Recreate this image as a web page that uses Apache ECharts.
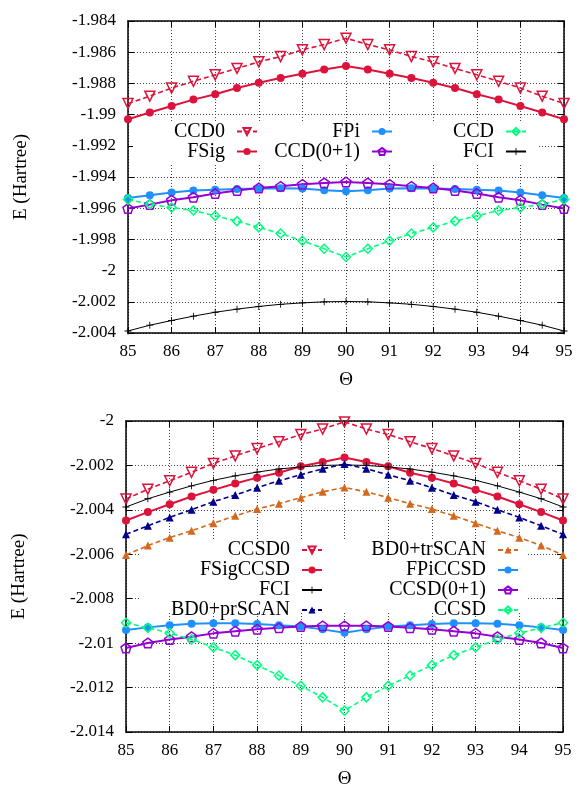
<!DOCTYPE html>
<html><head><meta charset="utf-8">
<script src="https://cdn.jsdelivr.net/npm/echarts@6/dist/echarts.min.js"></script>
<style>html,body{margin:0;padding:0;background:#fff;font-family:'Liberation Serif',serif}#c{width:578px;height:790px}</style>
</head><body><div id="c"></div>
<script>
// ---- data ----
const theta = [85,85.5,86,86.5,87,87.5,88,88.5,89,89.5,90,90.5,91,91.5,92,92.5,93,93.5,94,94.5,95];

// top panel
const ccd0  = [-1.98929,-1.98882,-1.98830,-1.98786,-1.98745,-1.98704,-1.98662,-1.98628,-1.98585,-1.98551,-1.98510,-1.98551,-1.98585,-1.98628,-1.98662,-1.98704,-1.98745,-1.98786,-1.98830,-1.98882,-1.98929];
const fsig  = [-1.99030,-1.98987,-1.98945,-1.98904,-1.98870,-1.98830,-1.98796,-1.98766,-1.98738,-1.98711,-1.98688,-1.98711,-1.98738,-1.98766,-1.98796,-1.98830,-1.98870,-1.98904,-1.98945,-1.98987,-1.99030];
const fpi   = [-1.99534,-1.99517,-1.99500,-1.99487,-1.99481,-1.99477,-1.99474,-1.99472,-1.99474,-1.99485,-1.99491,-1.99485,-1.99474,-1.99472,-1.99474,-1.99477,-1.99481,-1.99487,-1.99500,-1.99517,-1.99534];
const ccd01 = [-1.99602,-1.99577,-1.99549,-1.99530,-1.99506,-1.99487,-1.99470,-1.99460,-1.99447,-1.99438,-1.99432,-1.99438,-1.99447,-1.99460,-1.99470,-1.99487,-1.99506,-1.99530,-1.99549,-1.99577,-1.99602];
const ccd   = [-1.99545,-1.99574,-1.99596,-1.99615,-1.99649,-1.99683,-1.99723,-1.99762,-1.99809,-1.99860,-1.99913,-1.99860,-1.99809,-1.99762,-1.99723,-1.99683,-1.99649,-1.99615,-1.99596,-1.99574,-1.99545];
const fci   = [-2.00387,-2.00350,-2.00320,-2.00292,-2.00267,-2.00247,-2.00230,-2.00216,-2.00207,-2.00200,-2.00198,-2.00200,-2.00207,-2.00216,-2.00230,-2.00247,-2.00267,-2.00292,-2.00320,-2.00350,-2.00387];

// bottom panel
const ccsd0     = [-2.00351,-2.00307,-2.00269,-2.00231,-2.00191,-2.00157,-2.00124,-2.00093,-2.00061,-2.00036,-2.00004,-2.00036,-2.00061,-2.00093,-2.00124,-2.00157,-2.00191,-2.00231,-2.00269,-2.00307,-2.00351];
const fsigccsd  = [-2.00448,-2.00410,-2.00375,-2.00340,-2.00310,-2.00281,-2.00255,-2.00233,-2.00204,-2.00185,-2.00164,-2.00185,-2.00204,-2.00233,-2.00255,-2.00281,-2.00310,-2.00340,-2.00375,-2.00410,-2.00448];
const bd0pr     = [-2.00510,-2.00472,-2.00434,-2.00399,-2.00363,-2.00333,-2.00300,-2.00269,-2.00242,-2.00215,-2.00194,-2.00215,-2.00242,-2.00269,-2.00300,-2.00333,-2.00363,-2.00399,-2.00434,-2.00472,-2.00510];
const bd0tr     = [-2.00603,-2.00561,-2.00525,-2.00494,-2.00460,-2.00427,-2.00396,-2.00372,-2.00345,-2.00319,-2.00299,-2.00319,-2.00345,-2.00372,-2.00396,-2.00427,-2.00460,-2.00494,-2.00525,-2.00561,-2.00603];
const fpiccsd   = [-2.00941,-2.00929,-2.00919,-2.00913,-2.00911,-2.00910,-2.00914,-2.00919,-2.00925,-2.00938,-2.00953,-2.00938,-2.00925,-2.00919,-2.00914,-2.00910,-2.00911,-2.00913,-2.00919,-2.00929,-2.00941];
const ccsd01    = [-2.01022,-2.00999,-2.00984,-2.00971,-2.00956,-2.00946,-2.00937,-2.00931,-2.00925,-2.00922,-2.00922,-2.00922,-2.00925,-2.00931,-2.00937,-2.00946,-2.00956,-2.00971,-2.00984,-2.00999,-2.01022];
const ccsd      = [-2.00908,-2.00931,-2.00955,-2.00983,-2.01019,-2.01054,-2.01099,-2.01146,-2.01192,-2.01244,-2.01304,-2.01244,-2.01192,-2.01146,-2.01099,-2.01054,-2.01019,-2.00983,-2.00955,-2.00931,-2.00908];

const xTicks = {min: 85, max: 95, interval: 1};
const yTop = {min: -2.004, max: -1.984, interval: 0.002};
const yBot = {min: -2.014, max: -2.000, interval: 0.002};

// ---- styles ----
const FONT = 'serif';
const C_RED = '#dc143c', C_BLUE = '#1e90ff', C_VIO = '#9400d3', C_GRN = '#00ff7f',
      C_BLK = '#000000', C_NAVY = '#00008b', C_CHOC = '#d2691e';
const PENT = 'path://M50,0L97.55,34.55L79.39,90.45L20.61,90.45L2.45,34.55Z';
const PLUS = 'path://M4.4,0H5.6V4.4H10V5.6H5.6V10H4.4V5.6H0V4.4H4.4Z';
const DASH = [5, 3];

function mk(name, vals, gi, o) {
  return {
    type: 'line', name: name, xAxisIndex: gi * 2, yAxisIndex: gi * 2,
    data: theta.map((t, i) => [t, vals[i]]),
    symbol: o.symbol, symbolSize: o.size, symbolRotate: o.rotate || 0, symbolKeepAspect: true,
    showSymbol: true, clip: false, silent: true,
    lineStyle: {color: o.color, width: o.width, type: o.dash ? DASH : 'solid'},
    itemStyle: o.hollow ? {color: 'rgba(255,255,255,0)', borderColor: o.color, borderWidth: 1.5}
                        : {color: o.color, borderWidth: 0},
    emphasis: {disabled: true}
  };
}

const series = [
  mk('CCD0', ccd0, 0, {symbol: 'triangle', rotate: 180, size: 10, color: C_RED, width: 1.6, dash: true, hollow: true}),
  mk('FSig', fsig, 0, {symbol: 'circle', size: 8, color: C_RED, width: 2}),
  mk('FPi', fpi, 0, {symbol: 'circle', size: 8, color: C_BLUE, width: 2}),
  mk('CCD(0+1)', ccd01, 0, {symbol: PENT, size: 10, color: C_VIO, width: 2, hollow: true}),
  mk('CCD', ccd, 0, {symbol: 'diamond', size: 9, color: C_GRN, width: 1.6, dash: true, hollow: true}),
  mk('FCI', fci, 0, {symbol: PLUS, size: 7, color: C_BLK, width: 1}),

  mk('CCSD0', ccsd0, 1, {symbol: 'triangle', rotate: 180, size: 10, color: C_RED, width: 1.6, dash: true, hollow: true}),
  mk('FSigCCSD', fsigccsd, 1, {symbol: 'circle', size: 8, color: C_RED, width: 2}),
  mk('FCI', fci, 1, {symbol: PLUS, size: 7, color: C_BLK, width: 1}),
  mk('BD0+prSCAN', bd0pr, 1, {symbol: 'triangle', size: 8, color: C_NAVY, width: 1.6, dash: true}),
  mk('BD0+trSCAN', bd0tr, 1, {symbol: 'triangle', size: 8, color: C_CHOC, width: 1.6, dash: true}),
  mk('FPiCCSD', fpiccsd, 1, {symbol: 'circle', size: 8, color: C_BLUE, width: 2}),
  mk('CCSD(0+1)', ccsd01, 1, {symbol: PENT, size: 10, color: C_VIO, width: 2, hollow: true}),
  mk('CCSD', ccsd, 1, {symbol: 'diamond', size: 9, color: C_GRN, width: 1.6, dash: true, hollow: true})
];

const labelStyle = {fontFamily: FONT, fontSize: 17, color: '#000'};
const splitLine = {show: true, lineStyle: {color: '#444', width: 1, type: [1, 2]}};
const axisLine = {show: true, lineStyle: {color: '#000', width: 1.5}};
const tick = {show: true, inside: true, length: 6, lineStyle: {color: '#000', width: 1}};

function xAxes(gi) {
  return [
    Object.assign({type: 'value', gridIndex: gi, position: 'bottom'}, xTicks, {
      axisLine: axisLine, axisTick: tick, splitLine: splitLine,
      axisLabel: Object.assign({margin: 10}, labelStyle),
      name: 'Θ', nameLocation: 'middle', nameGap: 38,
      nameTextStyle: {fontFamily: FONT, fontSize: 19, color: '#000'}
    }),
    Object.assign({type: 'value', gridIndex: gi, position: 'top'}, xTicks, {
      axisLine: axisLine, axisTick: tick, splitLine: {show: false}, axisLabel: {show: false}
    })
  ];
}
function yAxes(gi, rng) {
  return [
    Object.assign({type: 'value', gridIndex: gi, position: 'left'}, rng, {
      axisLine: axisLine, axisTick: tick, splitLine: splitLine,
      axisLabel: Object.assign({margin: 12}, labelStyle),
      name: 'E (Hartree)', nameLocation: 'middle', nameGap: 97,
      nameTextStyle: {fontFamily: FONT, fontSize: 19, color: '#000'}
    }),
    Object.assign({type: 'value', gridIndex: gi, position: 'right'}, rng, {
      axisLine: axisLine, axisTick: tick, splitLine: {show: false}, axisLabel: {show: false}
    })
  ];
}

function legend(names, top, right, lh) {
  return {
    data: names, orient: 'vertical', align: 'right', top: top, right: right,
    itemWidth: 20, itemHeight: 9, itemGap: 0, padding: 0, selectedMode: false,
    textStyle: {fontFamily: FONT, fontSize: 20, color: '#000', lineHeight: lh, padding: [0, 7, 0, 0]}
  };
}

const option = {
  animation: false,
  backgroundColor: '#fff',
  textStyle: {fontFamily: FONT},
  grid: [
    {left: 128, right: 14, top: 21, height: 312},
    {left: 126, right: 15, top: 421, height: 313}
  ],
  xAxis: xAxes(0).concat(xAxes(1)),
  yAxis: yAxes(0, yTop).concat(yAxes(1, yBot)),
  legend: [
    legend(['CCD0', 'FSig'], 121.5, 320, 20),
    legend(['FPi', 'CCD(0+1)'], 121.5, 185, 20),
    legend(['CCD', 'FCI'], 121.5, 51, 20),
    legend(['CCSD0', 'FSigCCSD', 'FCI', 'BD0+prSCAN'], 540, 255, 19.2),
    legend(['BD0+trSCAN', 'FPiCCSD', 'CCSD(0+1)', 'CCSD'], 540, 59, 19.2)
  ],
  graphic: [
    {type: 'rect', z: 1, silent: true, shape: {x: 133, y: 121, width: 405, height: 42}, style: {fill: '#fff'}},
    {type: 'rect', z: 1, silent: true, shape: {x: 140, y: 540, width: 388, height: 73}, style: {fill: '#fff'}}
  ],
  series: series
};

const chart = echarts.init(document.getElementById('c'), null, {renderer: 'canvas'});
chart.setOption(option);
</script></body></html>
